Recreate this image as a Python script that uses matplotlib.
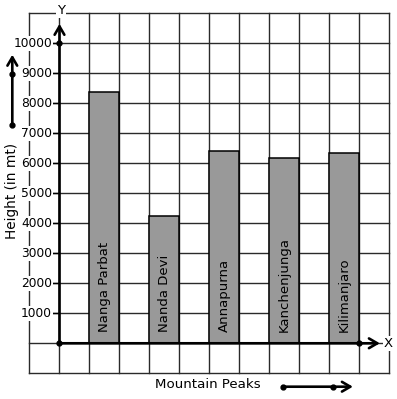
import matplotlib
matplotlib.use("Agg")
import matplotlib.pyplot as plt

# data
peaks = ["Nanga Parbat", "Nanda Devi", "Annapurna", "Kanchenjunga", "Kilimanjaro"]
heights = [8390, 4250, 6420, 6190, 6330]
bar_left = [1, 3, 5, 7, 9]
y_ticks = [1000, 2000, 3000, 4000, 5000, 6000, 7000, 8000, 9000, 10000]

fig = plt.figure(figsize=(3.97, 3.99), dpi=100)
ax = fig.add_axes([0, 0, 1, 1])
ax.axis("off")
ax.set_xlim(-1.983, 11.25)
ax.set_ylim(-1857, 11443)

# graph paper grid
grid_c = "#2a2a2a"
for gx in range(-1, 12):
    ax.plot([gx, gx], [-1000, 11000], color=grid_c, lw=1.0, zorder=1)
for gy in range(-1000, 12000, 1000):
    ax.plot([-1, 11], [gy, gy], color=grid_c, lw=1.0, zorder=1)

# bars
centers = [b + 0.5 for b in bar_left]
ax.bar(centers, heights, width=1.0, color="#999999", edgecolor="black",
       linewidth=1.1, zorder=3)
for c, name in zip(centers, peaks):
    ax.text(c, 380, name, rotation=90, ha="center", va="bottom",
            fontsize=9.5, zorder=4)

# axes with arrows
arrow = dict(arrowstyle="->,head_length=0.6,head_width=0.35", lw=1.9,
             color="black", shrinkA=0, shrinkB=0, mutation_scale=10)
ax.annotate("", xy=(0, 10650), xytext=(0, 0), arrowprops=arrow, zorder=5)
ax.annotate("", xy=(10.68, 0), xytext=(0, 0), arrowprops=arrow, zorder=5)
ax.plot([0, 0, 10], [0, 10000, 0], "o", color="black", ms=3.5, zorder=6)

# tick labels
for t in y_ticks:
    ax.plot([-0.22, 0], [t, t], color="black", lw=1.0, zorder=5)
    ax.text(-0.25, t, str(t), ha="right", va="center", fontsize=8.8, zorder=5,
            bbox=dict(facecolor="white", edgecolor="none", pad=0.6))

ax.text(0.05, 11100, "Y", ha="center", va="center", fontsize=9.5, zorder=5,
        bbox=dict(facecolor="white", edgecolor="none", pad=0.6))
ax.text(10.95, 0, "X", ha="center", va="center", fontsize=9.5, zorder=5,
        bbox=dict(facecolor="white", edgecolor="none", pad=0.6))

# axis titles with little arrows
ax.text(-1.58, 5080, "Height (in mt)", rotation=90, ha="center", va="center",
        fontsize=9.8)
ax.annotate("", xy=(-1.573, 9620), xytext=(-1.573, 7270), arrowprops=arrow)
ax.plot([-1.573, -1.573], [7270, 8960], "o", color="black", ms=3.5)

ax.text(4.95, -1390, "Mountain Peaks", ha="center", va="center", fontsize=9.6)
ax.annotate("", xy=(9.78, -1447), xytext=(7.44, -1447), arrowprops=arrow)
ax.plot([7.44, 9.12], [-1447, -1447], "o", color="black", ms=3.5)

fig.savefig("out.png", dpi=100)
